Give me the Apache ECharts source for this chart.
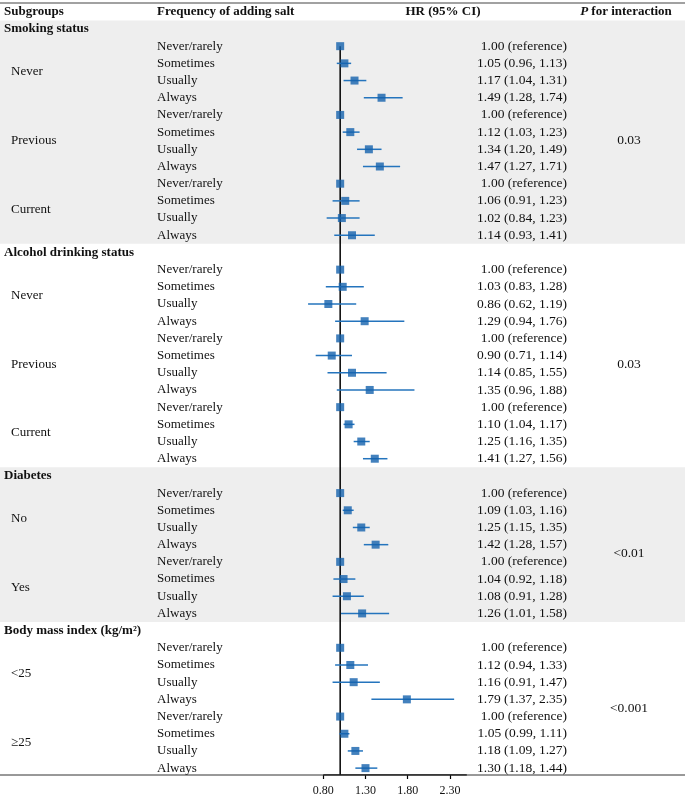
<!DOCTYPE html>
<html><head><meta charset="utf-8">
<script src="https://cdn.jsdelivr.net/npm/echarts@6/dist/echarts.min.js"></script>
<style>html,body{margin:0;padding:0;background:#fff}#c{width:685px;height:800px}</style>
</head><body><div id="c"></div>
<script>
// ---- data ----
const headers = ['Subgroups', 'Frequency of adding salt', 'HR (95% CI)', 'P for interaction'];
const sections = ['Smoking status', 'Alcohol drinking status', 'Diabetes', 'Body mass index (kg/m²)'];
const subgroups = [['Never', 'Previous', 'Current'], ['Never', 'Previous', 'Current'], ['No', 'Yes'], ['<25', '≥25']];
const frequencies = ['Never/rarely', 'Sometimes', 'Usually', 'Always'];
const hr = [
  1.00, 1.05, 1.17, 1.49,  1.00, 1.12, 1.34, 1.47,  1.00, 1.06, 1.02, 1.14,
  1.00, 1.03, 0.86, 1.29,  1.00, 0.90, 1.14, 1.35,  1.00, 1.10, 1.25, 1.41,
  1.00, 1.09, 1.25, 1.42,  1.00, 1.04, 1.08, 1.26,
  1.00, 1.12, 1.16, 1.79,  1.00, 1.05, 1.18, 1.30
];
const lower = [
  null, 0.96, 1.04, 1.28,  null, 1.03, 1.20, 1.27,  null, 0.91, 0.84, 0.93,
  null, 0.83, 0.62, 0.94,  null, 0.71, 0.85, 0.96,  null, 1.04, 1.16, 1.27,
  null, 1.03, 1.15, 1.28,  null, 0.92, 0.91, 1.01,
  null, 0.94, 0.91, 1.37,  null, 0.99, 1.09, 1.18
];
const upper = [
  null, 1.13, 1.31, 1.74,  null, 1.23, 1.49, 1.71,  null, 1.23, 1.23, 1.41,
  null, 1.28, 1.19, 1.76,  null, 1.14, 1.55, 1.88,  null, 1.17, 1.35, 1.56,
  null, 1.16, 1.35, 1.57,  null, 1.18, 1.28, 1.58,
  null, 1.33, 1.47, 2.35,  null, 1.11, 1.27, 1.44
];
const pInteraction = ['0.03', '0.03', '<0.01', '<0.001'];
const shadedSections = [true, false, true, false];
const xTicks = [0.80, 1.30, 1.80, 2.30];
const refValue = 1.0;

// ---- layout constants ----
const FONT = '"Liberation Serif","Times New Roman",serif';
const COL = { head0: 4, sub: 11, freq: 157, hr: 567, hrHead: 443, p: 629, pHead: 626 };
const AXIS_K = 44.4;

// ---- build rows ----
const texts = [];
const marks = [];
const bands = [];
texts.push({k: 0, x: COL.head0, text: headers[0], align: 'left', bold: true});
texts.push({k: 0, x: COL.freq, text: headers[1], align: 'left', bold: true});
texts.push({k: 0, x: COL.hrHead, text: headers[2], align: 'center', bold: true});
texts.push({k: 0, x: COL.pHead, text: '{i|P} ' + headers[3].slice(2), align: 'center', bold: true, rich: true});
let k = 1, idx = 0;
sections.forEach((sec, s) => {
  const start = k;
  texts.push({k: k, x: COL.head0, text: sec, align: 'left', bold: true});
  k++;
  const firstData = k;
  subgroups[s].forEach(g => {
    texts.push({k: k + 1.5, x: COL.sub, text: g, align: 'left'});
    frequencies.forEach(f => {
      texts.push({k: k, x: COL.freq, text: f, align: 'left'});
      const label = lower[idx] == null
        ? hr[idx].toFixed(2) + ' (reference)'
        : hr[idx].toFixed(2) + ' (' + lower[idx].toFixed(2) + ', ' + upper[idx].toFixed(2) + ')';
      texts.push({k: k, x: COL.hr, text: label, align: 'right', size: 13.5});
      marks.push({k: k, i: idx});
      k++; idx++;
    });
  });
  const lastData = k - 1;
  texts.push({k: (firstData + lastData) / 2, x: COL.p, text: pInteraction[s], align: 'center', size: 13.5});
  if (shadedSections[s]) bands.push([start - 0.5, lastData + 0.5]);
});
const firstRowK = 2;

const chart = echarts.init(document.getElementById('c'), null, {renderer: 'canvas'});
chart.setOption({
  animation: false,
  backgroundColor: '#fff',
  grid: { left: 306.4, width: 160.4, top: 3.2, bottom: 25, containLabel: false },
  xAxis: {
    type: 'value', min: 0.6, max: 2.5, position: 'bottom',
    axisLine: { show: false, onZero: false },
    splitLine: { show: false },
    axisTick: { show: true, customValues: xTicks, length: 4, lineStyle: { color: '#000', width: 1.2 } },
    axisLabel: { customValues: xTicks, formatter: v => v.toFixed(2), fontFamily: FONT, fontSize: 12, color: '#111', margin: 10 }
  },
  yAxis: { type: 'value', inverse: true, min: -0.5, max: AXIS_K, show: false },
  graphic: [
    { type: 'line', shape: { x1: 0, y1: 3, x2: 685, y2: 3 }, style: { stroke: '#444', lineWidth: 1.2 }, z: 10 },
    { type: 'line', shape: { x1: 0, y1: 775, x2: 685, y2: 775 }, style: { stroke: '#333', lineWidth: 1 }, z: 10 }
  ],
  series: [
    {
      type: 'custom', clip: false, silent: true, z: 0,
      data: bands.map(b => [refValue, b[0], b[1]]),
      encode: { x: 0, y: [1, 2] },
      renderItem: (params, api) => {
        const y0 = api.coord([refValue, api.value(1)])[1];
        const y1 = api.coord([refValue, api.value(2)])[1];
        return { type: 'rect', shape: { x: 0, y: y0, width: 685, height: y1 - y0 }, style: { fill: '#eeeeee' } };
      }
    },
    {
      type: 'line', silent: true, z: 2, symbol: 'none',
      data: [[refValue, firstRowK], [refValue, AXIS_K]],
      lineStyle: { color: '#000', width: 1.5 }
    },
    {
      type: 'line', silent: true, z: 2, symbol: 'none',
      data: [[xTicks[0], AXIS_K], [2.5, AXIS_K]],
      lineStyle: { color: '#000', width: 1.6 }
    },
    {
      type: 'custom', clip: false, silent: true, z: 3,
      data: marks.filter(m => lower[m.i] != null).map(m => [lower[m.i], upper[m.i], m.k]),
      encode: { x: [0, 1], y: 2 },
      renderItem: (params, api) => {
        const p0 = api.coord([api.value(0), api.value(2)]);
        const p1 = api.coord([api.value(1), api.value(2)]);
        return { type: 'line', shape: { x1: p0[0], y1: p0[1], x2: p1[0], y2: p1[1] }, style: { stroke: '#2474bd', lineWidth: 1.5 } };
      }
    },
    {
      type: 'scatter', silent: true, z: 4, symbol: 'rect', symbolSize: 8,
      data: marks.map(m => [hr[m.i], m.k]),
      itemStyle: { color: '#1462ac' }
    },
    {
      type: 'custom', clip: false, silent: true, z: 5,
      data: texts.map(t => [refValue, t.k]),
      encode: { x: 0, y: 1 },
      renderItem: (params, api) => {
        const t = texts[params.dataIndex];
        const y = api.coord([refValue, api.value(1)])[1];
        const style = {
          text: t.text, x: 0, y: 0, align: t.align, verticalAlign: 'middle',
          fontFamily: FONT, fontSize: t.size || 13, fontWeight: t.bold ? 'bold' : 'normal', fill: '#111'
        };
        if (t.rich) style.rich = { i: { fontStyle: 'italic', fontWeight: 'bold', fontFamily: FONT, fontSize: 13 } };
        return { type: 'text', x: t.x, y: y, style: style };
      }
    }
  ]
});
</script>
</body></html>
